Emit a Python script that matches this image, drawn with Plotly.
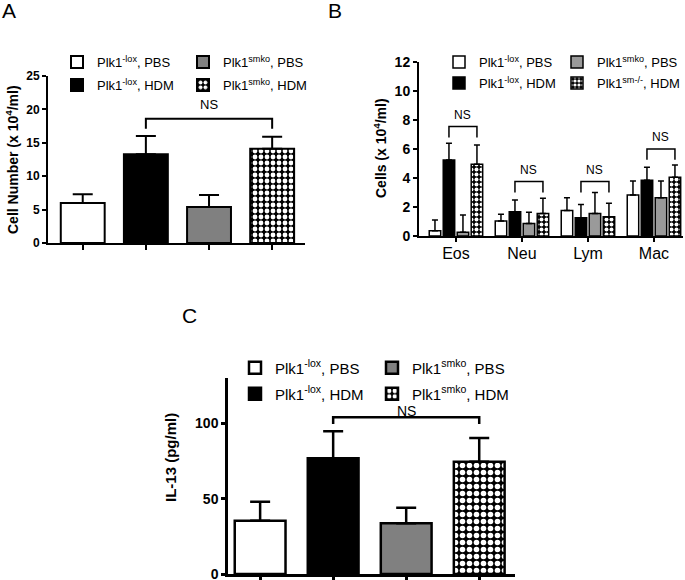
import plotly.graph_objects as go

W, H = 685, 580
FONT = "Arial, Liberation Sans, sans-serif"

# ---------------- data ----------------
groups = ["Plk1<sup>-lox</sup>, PBS", "Plk1<sup>-lox</sup>, HDM",
          "Plk1<sup>smko</sup>, PBS", "Plk1<sup>smko</sup>, HDM"]
groups_B = ["Plk1<sup>-lox</sup>, PBS", "Plk1<sup>-lox</sup>, HDM",
            "Plk1<sup>smko</sup>, PBS", "Plk1<sup>sm-/-</sup>, HDM"]

# Panel A: BAL total cell number (x 10^4/ml)
a_mean = [6.0, 13.3, 5.4, 14.1]
a_sem = [1.3, 2.7, 1.8, 1.8]
a_ns_y = 18.6

# Panel B: differential counts (x 10^4/ml)
cell_types = ["Eos", "Neu", "Lym", "Mac"]
b_lox_pbs = [0.37, 1.03, 1.75, 2.83]
b_lox_pbs_sem = [0.73, 0.47, 0.89, 0.97]
b_lox_hdm = [5.24, 1.68, 1.26, 3.84]
b_lox_hdm_sem = [1.15, 0.80, 0.92, 0.90]
b_smko_pbs = [0.25, 0.87, 1.56, 2.64]
b_smko_pbs_sem = [1.20, 0.76, 1.44, 1.16]
b_smko_hdm = [4.95, 1.56, 1.33, 4.05]
b_smko_hdm_sem = [1.33, 1.04, 0.92, 0.85]
b_ns_y = [7.55, 3.75, 3.75, 6.0]

# Panel C: IL-13 (pg/ml)
c_mean = [35.4, 76.8, 33.6, 74.4]
c_sem = [12.5, 17.9, 10.3, 15.8]
c_ns_y = 104

# ---------------- styles ----------------
GRAY_AC = "#808080"
GRAY_B = "#9a9a9a"


def style(idx, gray, lw, psize):
    if idx == 0:
        return dict(color="white", line=dict(color="black", width=lw))
    if idx == 1:
        return dict(color="black", line=dict(color="black", width=lw))
    if idx == 2:
        return dict(color=gray, line=dict(color="black", width=lw))
    return dict(color="black", line=dict(color="black", width=lw),
                pattern=dict(shape=".", fgcolor="white", bgcolor="black",
                             size=psize, solidity=0.5, fillmode="replace"))


fig = go.Figure()

# one legend per entry (2 x 2 layout per panel)
LEG_A = ["legend", "legend2", "legend3", "legend4"]
LEG_B = ["legend5", "legend6", "legend7", "legend8"]
LEG_C = ["legend9", "legend10", "legend11", "legend12"]

# Panel A
for i in range(4):
    fig.add_trace(go.Bar(
        x=[i], y=[a_mean[i]], name=groups[i], legend=LEG_A[i],
        marker=style(i, GRAY_AC, 2, 6), offsetgroup="A",
        error_y=dict(type="data", array=[a_sem[i]], arrayminus=[0], symmetric=False,
                     color="black", thickness=2, width=10),
        xaxis="x", yaxis="y", hoverinfo="skip"))

# Panel B
b_vals = [b_lox_pbs, b_lox_hdm, b_smko_pbs, b_smko_hdm]
b_sems = [b_lox_pbs_sem, b_lox_hdm_sem, b_smko_pbs_sem, b_smko_hdm_sem]
for i in range(4):
    fig.add_trace(go.Bar(
        x=list(range(len(cell_types))), y=b_vals[i], name=groups_B[i], legend=LEG_B[i],
        marker=style(i, GRAY_B, 1.5, 5), offsetgroup="B%d" % i,
        error_y=dict(type="data", array=b_sems[i], arrayminus=[0] * 4, symmetric=False,
                     color="black", thickness=1.5, width=3),
        xaxis="x2", yaxis="y2", hoverinfo="skip"))

# Panel C
for i in range(4):
    fig.add_trace(go.Bar(
        x=[i], y=[c_mean[i]], name=groups[i], legend=LEG_C[i],
        marker=style(i, GRAY_AC, 2.5, 7), offsetgroup="C",
        error_y=dict(type="data", array=[c_sem[i]], arrayminus=[0], symmetric=False,
                     color="black", thickness=2.5, width=10),
        xaxis="x3", yaxis="y3", hoverinfo="skip"))

BARGAP = 0.152
BARGROUPGAP = 0.18

# ---------------- brackets ----------------
shapes = []
annotations = []


def bracket(xref, yref, x1, x2, y, drop, lw, fs, ys):
    shapes.append(dict(type="path", xref=xref, yref=yref,
                       path="M %f,%f L %f,%f L %f,%f L %f,%f" % (x1, y - drop, x1, y, x2, y, x2, y - drop),
                       line=dict(color="black", width=lw)))
    annotations.append(dict(xref=xref, yref=yref, x=(x1 + x2) / 2, y=y, text="NS",
                            showarrow=False, yanchor="bottom", yshift=ys,
                            font=dict(family=FONT, size=fs, color="black")))


bracket("x", "y", 1, 3, a_ns_y, 1.5, 2, 13, 5)
slot = (1 - BARGAP) / 4
for k in range(len(cell_types)):
    xb = k - (1 - BARGAP) / 2 + slot * 1.5
    xc = k - (1 - BARGAP) / 2 + slot * 3.5
    bracket("x2", "y2", xb, xc, b_ns_y[k], 0.75, 1.5, 12, 3)
bracket("x3", "y3", 1, 3, c_ns_y, 4.5, 2.5, 14, -4)

# titles & panel letters
def ptext(xpx, ypx, text, size, bold=False, angle=0, yanchor="middle"):
    annotations.append(dict(xref="paper", yref="paper", x=xpx / W, y=1 - ypx / H,
                            text=text, showarrow=False, textangle=angle,
                            xanchor="center", yanchor=yanchor,
                            font=dict(family=FONT, size=size, color="black",
                                      weight="bold" if bold else "normal")))


ptext(12, 160, "Cell Number (x 10<sup>4</sup>/ml)", 14, True, -90)
ptext(380, 148, "Cells (x 10<sup>4</sup>/ml)", 14, True, -90)
ptext(170, 458, "IL-13 (pg/ml)", 15, True, -90)
ptext(9, 11, "A", 21)
ptext(335, 11, "B", 21)
ptext(189, 315, "C", 21)


def leg(text_x, ypx, fs):
    return dict(x=(text_x - 40) / W, y=1 - ypx / H, xanchor="left", yanchor="middle",
                orientation="h", font=dict(size=fs, family=FONT, color="black"),
                bgcolor="rgba(0,0,0,0)", borderwidth=0, tracegroupgap=0)


def xax(dom, rng, **kw):
    d = dict(domain=[dom[0] / W, dom[1] / W], range=rng, showline=True, linecolor="black",
             linewidth=2, ticks="outside", ticklen=5, tickwidth=2, tickcolor="black",
             showgrid=False, zeroline=False, fixedrange=True)
    d.update(kw)
    return d


def yax(dom, rng, **kw):
    d = dict(domain=[1 - dom[0] / H, 1 - dom[1] / H], range=rng, showline=True,
             linecolor="black", linewidth=2, ticks="outside", ticklen=4, tickwidth=2,
             tickcolor="black", showgrid=False, zeroline=False, fixedrange=True,
             ticklabeloverflow="allow")
    d.update(kw)
    return d


fig.update_layout(
    width=W, height=H, margin=dict(l=0, r=0, t=0, b=0, autoexpand=False),
    paper_bgcolor="white", plot_bgcolor="white",
    barmode="group", bargap=BARGAP, bargroupgap=BARGROUPGAP,
    font=dict(family=FONT, color="black"),
    showlegend=True,
    xaxis=xax((48, 305), [-0.55, 3.52], tickvals=[0, 1, 2, 3], showticklabels=False, anchor="y"),
    yaxis=yax((243, 76), [0, 25], dtick=5, anchor="x",
              tickfont=dict(family=FONT, size=12, weight="bold", color="black")),
    xaxis2=xax((419, 683), [-0.56, 3.44], tickvals=list(range(len(cell_types))),
               ticktext=cell_types, anchor="y2", ticklen=4, ticklabelstandoff=-2,
               ticklabeloverflow="allow",
               tickfont=dict(family=FONT, size=16, color="black")),
    yaxis2=yax((236, 62), [0, 12], dtick=2, anchor="x2",
               tickfont=dict(family=FONT, size=14, weight="bold", color="black")),
    xaxis3=xax((228, 515), [-0.44, 3.49], tickvals=[0, 1, 2, 3], showticklabels=False,
               anchor="y3", linewidth=2.5, tickwidth=2.5),
    yaxis3=yax((574, 378), [0, 130], tickvals=[0, 50, 100], anchor="x3",
               linewidth=2.5, tickwidth=2.5,
               tickfont=dict(family=FONT, size=14, weight="bold", color="black")),
    # panel A legend: white, black (col 1); gray, checker (col 2)
    legend=leg(97, 62, 13),
    legend2=leg(97, 85, 13),
    legend3=leg(223, 62, 13),
    legend4=leg(223, 85, 13),
    legend5=leg(479, 62, 13),
    legend6=leg(479, 83, 13),
    legend7=leg(597, 62, 13),
    legend8=leg(597, 83, 13),
    legend9=leg(275, 368, 15),
    legend10=leg(275, 394, 15),
    legend11=leg(412, 368, 15),
    legend12=leg(412, 394, 15),
    shapes=shapes,
    annotations=annotations,
)

fig.write_html("out.html", config={"displayModeBar": False},
               post_script="document.body.style.margin='0';document.body.style.overflow='hidden';")
